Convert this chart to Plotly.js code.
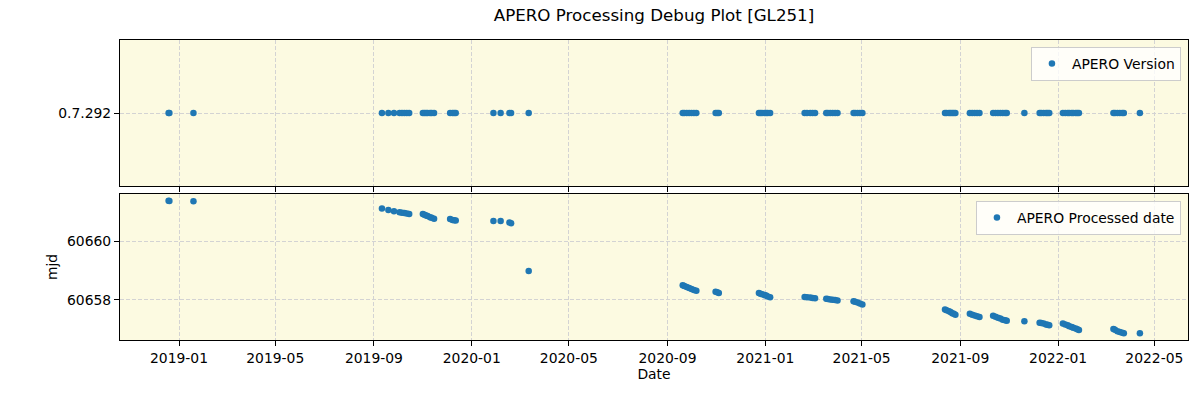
<!DOCTYPE html>
<html>
<head>
<meta charset="utf-8">
<script src="https://cdn.plot.ly/plotly-3.0.1.min.js"></script>
<style>
  html, body { margin: 0; padding: 0; background: #ffffff; }
  #chart { width: 1200px; height: 400px; }
</style>
</head>
<body>
<div id="chart"></div>
<script>
// ---- Data ----
const obsDates = [
  '2018-12-19','2018-12-20','2019-01-19',
  '2019-09-11','2019-09-19','2019-09-26','2019-10-03','2019-10-06','2019-10-09','2019-10-12','2019-10-15',
  '2019-11-01','2019-11-03','2019-11-05','2019-11-07','2019-11-10','2019-11-12','2019-11-15',
  '2019-12-05','2019-12-08','2019-12-10','2019-12-12',
  '2020-01-28','2020-02-06','2020-02-17','2020-02-19',
  '2020-03-12',
  '2020-09-20','2020-09-22','2020-09-25','2020-09-28','2020-10-01','2020-10-04','2020-10-07',
  '2020-10-31','2020-11-02','2020-11-04',
  '2020-12-24','2020-12-26','2020-12-28','2020-12-31','2021-01-02','2021-01-04','2021-01-07',
  '2021-02-19','2021-02-22','2021-02-26','2021-03-01','2021-03-04',
  '2021-03-18','2021-03-20','2021-03-23','2021-03-26','2021-03-29','2021-04-01',
  '2021-04-21','2021-04-23','2021-04-26','2021-04-29','2021-05-02',
  '2021-08-13','2021-08-15','2021-08-18','2021-08-20','2021-08-22','2021-08-24','2021-08-26',
  '2021-09-13','2021-09-16','2021-09-19','2021-09-22','2021-09-25',
  '2021-10-12','2021-10-15','2021-10-18','2021-10-21','2021-10-24','2021-10-27','2021-10-29',
  '2021-11-20',
  '2021-12-09','2021-12-11','2021-12-14','2021-12-17','2021-12-19','2021-12-21',
  '2022-01-07','2022-01-10','2022-01-13','2022-01-15','2022-01-18','2022-01-20','2022-01-23','2022-01-25','2022-01-27',
  '2022-03-11','2022-03-13','2022-03-16','2022-03-19','2022-03-22','2022-03-24',
  '2022-04-13'
];

const aperoVersion = [
  '0.7.292','0.7.292','0.7.292',
  '0.7.292','0.7.292','0.7.292','0.7.292','0.7.292','0.7.292','0.7.292','0.7.292',
  '0.7.292','0.7.292','0.7.292','0.7.292','0.7.292','0.7.292','0.7.292',
  '0.7.292','0.7.292','0.7.292','0.7.292',
  '0.7.292','0.7.292','0.7.292','0.7.292',
  '0.7.292',
  '0.7.292','0.7.292','0.7.292','0.7.292','0.7.292','0.7.292','0.7.292',
  '0.7.292','0.7.292','0.7.292',
  '0.7.292','0.7.292','0.7.292','0.7.292','0.7.292','0.7.292','0.7.292',
  '0.7.292','0.7.292','0.7.292','0.7.292','0.7.292',
  '0.7.292','0.7.292','0.7.292','0.7.292','0.7.292','0.7.292',
  '0.7.292','0.7.292','0.7.292','0.7.292','0.7.292',
  '0.7.292','0.7.292','0.7.292','0.7.292','0.7.292','0.7.292','0.7.292',
  '0.7.292','0.7.292','0.7.292','0.7.292','0.7.292',
  '0.7.292','0.7.292','0.7.292','0.7.292','0.7.292','0.7.292','0.7.292',
  '0.7.292',
  '0.7.292','0.7.292','0.7.292','0.7.292','0.7.292','0.7.292',
  '0.7.292','0.7.292','0.7.292','0.7.292','0.7.292','0.7.292','0.7.292','0.7.292','0.7.292',
  '0.7.292','0.7.292','0.7.292','0.7.292','0.7.292','0.7.292',
  '0.7.292'
];

const processedMjd = [
  60661.37, 60661.36, 60661.35,
  60661.11, 60661.06, 60661.01, 60660.98, 60660.965, 60660.95, 60660.935, 60660.92,
  60660.92, 60660.895, 60660.87, 60660.85, 60660.81, 60660.79, 60660.76,
  60660.75, 60660.72, 60660.71, 60660.70,
  60660.68, 60660.68, 60660.63, 60660.61,
  60658.98,
  60658.50, 60658.475, 60658.44, 60658.405, 60658.37, 60658.34, 60658.31,
  60658.28, 60658.26, 60658.24,
  60658.24, 60658.215, 60658.19, 60658.165, 60658.15, 60658.12, 60658.09,
  60658.10, 60658.09, 60658.08, 60658.07, 60658.06,
  60658.04, 60658.03, 60658.02, 60658.01, 60658.00, 60657.98,
  60657.96, 60657.94, 60657.91, 60657.88, 60657.85,
  60657.68, 60657.65, 60657.62, 60657.59, 60657.55, 60657.53, 60657.50,
  60657.53, 60657.50, 60657.47, 60657.45, 60657.42,
  60657.46, 60657.43, 60657.40, 60657.37, 60657.33, 60657.31, 60657.29,
  60657.28,
  60657.23, 60657.22, 60657.20, 60657.17, 60657.16, 60657.14,
  60657.20, 60657.17, 60657.14, 60657.11, 60657.08, 60657.06, 60657.03, 60657.005, 60656.98,
  60657.01, 60656.985, 60656.94, 60656.91, 60656.89, 60656.87,
  60656.87
];

const versionTicks = ['0.7.292'];
const mjdTicks = [60658, 60660];

// ---- Styling ----
const BLUE = '#1f77b4';
const FONT = 'DejaVu Sans, sans-serif';
const BG = '#fcfae1';
const GRID = '#d3d3d3';

const traces = [
  {
    x: obsDates, y: aperoVersion, xaxis: 'x', yaxis: 'y',
    type: 'scatter', mode: 'markers', name: 'APERO Version',
    marker: { color: BLUE, size: 6.5 }, legend: 'legend', showlegend: true
  },
  {
    x: obsDates, y: processedMjd, xaxis: 'x2', yaxis: 'y2',
    type: 'scatter', mode: 'markers', name: 'APERO Processed date',
    marker: { color: BLUE, size: 6.5 }, legend: 'legend2', showlegend: true
  }
];

const xRange = ['2018-10-19 10:00', '2022-06-12'];

const commonX = {
  type: 'date', range: xRange, tick0: '2019-01-01', dtick: 'M4',
  tickformat: '%Y-%m', ticks: 'outside', ticklen: 5, tickwidth: 1, tickcolor: '#000',
  showline: true, linecolor: '#000', linewidth: 1, mirror: true,
  showgrid: true, gridcolor: GRID, griddash: '4px,2px', gridwidth: 1,
  zeroline: false, tickfont: { family: FONT, size: 13.9, color: '#000' }
};

const legendStyle = {
  bgcolor: 'rgba(255,255,255,0.8)', bordercolor: '#cccccc', borderwidth: 1,
  font: { family: FONT, size: 13.9, color: '#000' },
  xanchor: 'right', yanchor: 'top', itemclick: false, itemdoubleclick: false,
  tracegroupgap: 0
};

const layout = {
  width: 1200, height: 400,
  paper_bgcolor: '#ffffff', plot_bgcolor: BG,
  margin: { l: 120, r: 12, t: 40, b: 60, pad: 0 },
  font: { family: FONT, size: 13.9, color: '#000' },
  title: {
    text: 'APERO Processing Debug Plot [GL251]',
    font: { family: FONT, size: 16.7, color: '#000' },
    x: 0.5, xref: 'paper', xanchor: 'center', y: 0.962, yanchor: 'middle', yref: 'container'
  },
  xaxis: Object.assign({}, commonX, { anchor: 'y', domain: [0, 1], showticklabels: false, matches: 'x2' }),
  yaxis: {
    type: 'category', domain: [0.5133, 1], anchor: 'x', range: [-1, 1],
    tickvals: versionTicks, ticktext: versionTicks,
    ticks: 'outside', ticklen: 5, tickwidth: 1, tickcolor: '#000',
    showline: true, linecolor: '#000', linewidth: 1, mirror: true,
    showgrid: true, gridcolor: GRID, griddash: '4px,2px', gridwidth: 1,
    zeroline: false, tickfont: { family: FONT, size: 13.9, color: '#000' }
  },
  xaxis2: Object.assign({}, commonX, {
    anchor: 'y2', domain: [0, 1],
    title: { text: 'Date', font: { family: FONT, size: 13.9, color: '#000' }, standoff: 4 }
  }),
  yaxis2: {
    domain: [0, 0.4867], anchor: 'x2', range: [60656.64, 60661.6],
    tickvals: mjdTicks, tickformat: 'd',
    ticks: 'outside', ticklen: 5, tickwidth: 1, tickcolor: '#000',
    showline: true, linecolor: '#000', linewidth: 1, mirror: true,
    showgrid: true, gridcolor: GRID, griddash: '4px,2px', gridwidth: 1,
    zeroline: false, tickfont: { family: FONT, size: 13.9, color: '#000' },
    title: { text: 'mjd', font: { family: FONT, size: 13.9, color: '#000' }, standoff: 6 }
  },
  legend: Object.assign({}, legendStyle, { x: 0.9934, y: 0.977 }),
  legend2: Object.assign({}, legendStyle, { x: 0.9934, y: 0.4633 }),
  showlegend: true
};

Plotly.newPlot('chart', traces, layout, { staticPlot: true, displayModeBar: false });
</script>
</body>
</html>
